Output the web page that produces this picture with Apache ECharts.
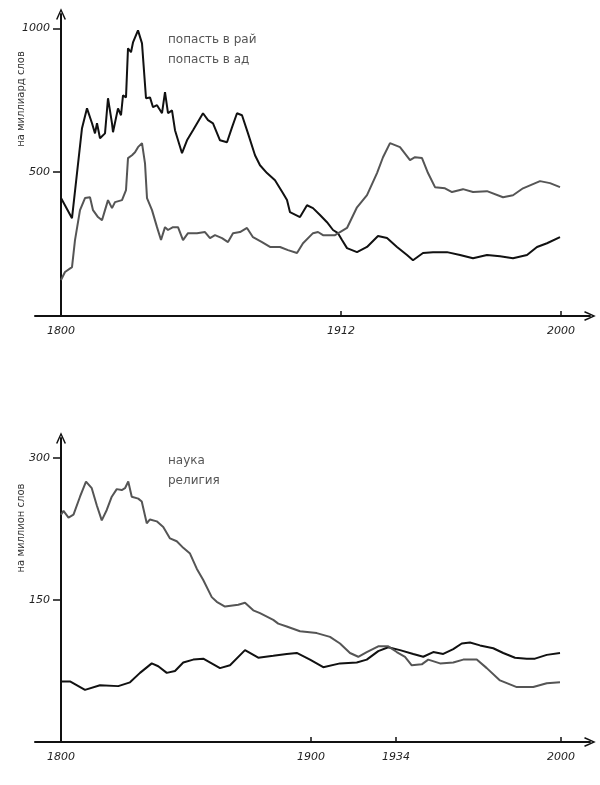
<!DOCTYPE html>
<html><head><meta charset="utf-8">
<script src="https://cdn.jsdelivr.net/npm/echarts@6/dist/echarts.min.js"></script>
<style>html,body{margin:0;padding:0;background:#fff}#c{width:600px;height:785px}</style>
</head><body><div id="c"></div>
<script>
const BASE_YEAR = 1800;
const topLegend = ['попасть в рай', 'попасть в ад'];
const bottomLegend = ['наука', 'религия'];
const topYName = 'на миллиард слов';
const bottomYName = 'на миллион слов';
const topYTicks = [500, 1000];
const bottomYTicks = [150, 300];
const topXTicks = [1800, 1912, 2000];
const bottomXTicks = [1800, 1900, 1934, 2000];

const raiData = [
  [1800,410],[1804.4,340],[1808.4,653],[1810.4,722],[1812.4,670],[1813.6,635],[1814.4,670],[1815.6,618],
  [1817.6,635],[1818.8,757],[1820.4,670],[1820.8,639],[1822.8,722],[1824,698],[1824.8,767],[1826,760],
  [1826.8,931],[1828,917],[1828.8,951],[1830.8,993],[1832.4,948],[1834,757],[1835.6,760],[1836.8,726],
  [1838.4,733],[1840.4,705],[1841.6,778],[1842.8,705],[1844.4,715],[1845.6,646],[1848.4,566],[1850.4,611],
  [1852.8,646],[1856.8,705],[1858.8,681],[1860.8,670],[1863.6,611],[1866.4,604],[1868.4,656],[1870.4,705],
  [1872.4,698],[1874.8,635],[1877.6,559],[1879.6,524],[1882.4,497],[1885.6,472],[1888.8,427],[1890.4,403],
  [1891.6,361],[1895.6,344],[1898.4,385],[1900.8,375],[1903.6,351],[1906.4,326],[1908.8,299],[1910.8,288],
  [1912.4,264],[1914.4,236],[1918.4,222],[1922.4,240],[1926.8,278],[1930.4,271],[1934.4,240],[1938.4,212],
  [1940.8,194],[1944.8,219],[1948.8,222],[1954.4,222],[1959.6,212],[1964.8,201],[1970.4,212],[1975.6,208],
  [1980.8,201],[1986.4,212],[1990.4,240],[1994.4,253],[1999.6,274]
];
const adData = [
  [1800,125],[1801.6,153],[1804.4,170],[1805.6,264],[1807.6,368],[1809.6,410],[1811.6,413],[1812.8,368],
  [1814.8,344],[1816.4,333],[1817.6,368],[1818.8,403],[1820.4,375],[1821.6,396],[1824.4,403],[1826,438],
  [1826.8,549],[1828.4,559],[1829.6,569],[1830.8,587],[1832.4,601],[1833.6,531],[1834.4,410],[1836.4,368],
  [1838.4,309],[1840,264],[1841.6,309],[1842.8,299],[1844.8,309],[1846.8,309],[1848.8,264],[1850.8,288],
  [1854.4,288],[1857.6,292],[1859.6,271],[1861.6,281],[1864.4,271],[1866.8,257],[1868.8,288],[1871.6,292],
  [1874.4,306],[1876.8,274],[1880.4,257],[1883.6,240],[1887.6,240],[1890.8,229],[1894.4,219],[1896.8,253],
  [1900.8,288],[1902.8,292],[1904.8,281],[1909.6,281],[1911.6,292],[1914.4,306],[1918.4,378],[1922.4,420],
  [1926.4,497],[1928.8,552],[1931.6,601],[1935.6,587],[1939.6,542],[1941.6,552],[1944.4,549],[1946.8,497],
  [1949.6,448],[1953.6,444],[1956.4,431],[1960.8,441],[1964.8,431],[1970.4,434],[1976.8,413],[1980.8,420],
  [1984.8,444],[1991.6,469],[1995.6,462],[1999.6,448]
];
const naukaData = [
  [1800,64],[1803.6,64],[1809.6,55],[1815.6,60],[1822.9,59],[1827.6,63],[1831.6,73],[1836.3,83],
  [1838.9,80],[1842.3,73],[1845.6,75],[1848.9,84],[1852.9,87],[1856.9,88],[1863.6,78],[1867.6,81],
  [1873.6,97],[1878.9,89],[1884.9,91],[1890.3,93],[1894.3,94],[1899.6,87],[1904.9,79],[1911.6,83],
  [1918.3,84],[1922.3,87],[1926.9,96],[1930.9,100],[1935.6,97],[1940.9,93],[1944.9,90],[1948.9,95],
  [1952.9,93],[1956.9,98],[1960.3,104],[1963.6,105],[1967.6,102],[1972.9,99],[1976.9,94],[1981.6,89],
  [1986.3,88],[1989.6,88],[1994.3,92],[1999.6,94]
];
const religiyaData = [
  [1800,240],[1801,244],[1803,237],[1805,240],[1807.6,259],[1810,275],[1812.3,268],[1814.3,250],
  [1816.3,234],[1818.3,245],[1820.3,259],[1822.3,267],[1824.3,266],[1825.6,268],[1826.9,275],[1828.3,259],
  [1830.9,257],[1832.3,254],[1834.3,231],[1835.6,235],[1838.3,233],[1840.9,227],[1843.6,215],[1846.3,212],
  [1848.9,205],[1851.6,199],[1854.3,183],[1856.9,171],[1860.3,153],[1862.3,148],[1865.6,143],[1870.9,145],
  [1873.6,147],[1876.9,139],[1879.6,136],[1884.9,129],[1886.9,125],[1890.3,122],[1895.6,117],[1902.3,115],
  [1907.6,111],[1911.6,104],[1915.6,94],[1918.9,90],[1922.3,95],[1926.9,101],[1930.9,101],[1934.3,95],
  [1937.6,90],[1940.3,81],[1944.3,82],[1946.9,87],[1951.6,83],[1956.9,84],[1960.9,87],[1966.3,87],
  [1970.3,78],[1975.6,65],[1982.3,58],[1988.9,58],[1994.3,62],[1999.6,63]
];

const shift = d => d.map(p => [p[0] - BASE_YEAR, p[1]]);
const FONT = 'DejaVu Sans';
const INK = '#111';
const GRAY = '#555';
const chevron = 'path://M0,11 L5,0 L10,11 L8.6,11.6 L5,3.4 L1.4,11.6 Z';

function xAxisCfg(grid, ticks) {
  const vals = ticks.map(t => t - BASE_YEAR);
  return {
    type: 'value', gridIndex: grid, min: -10.4, max: 211.6,
    axisLine: { show: true, onZero: true, symbol: ['none', chevron], symbolSize: [10, 12],
      lineStyle: { color: INK, width: 2 } },
    axisTick: { show: true, inside: true, length: 5, customValues: vals, lineStyle: { color: INK, width: 1.5 } },
    axisLabel: { customValues: vals, formatter: v => String(v + BASE_YEAR), margin: 10,
      color: '#222', fontFamily: FONT, fontStyle: 'italic', fontSize: 11 },
    splitLine: { show: false }
  };
}
function yAxisCfg(grid, max, ticks) {
  return {
    type: 'value', gridIndex: grid, min: 0, max: max,
    axisLine: { show: true, onZero: true, symbol: ['none', chevron], symbolSize: [10, 12],
      lineStyle: { color: INK, width: 2 } },
    axisTick: { show: true, length: 8, customValues: ticks, lineStyle: { color: INK, width: 1.5 } },
    axisLabel: { customValues: ticks, formatter: v => String(v), margin: -15, color: '#222',
      fontFamily: FONT, fontStyle: 'italic', fontSize: 11 },
    splitLine: { show: false }
  };
}
function lineSeries(name, data, x, color) {
  return { name: name, type: 'line', xAxisIndex: x, yAxisIndex: x, data: shift(data),
    showSymbol: false, symbol: 'none', smooth: false, lineStyle: { color: color, width: 2 },
    itemStyle: { color: color }, emphasis: { disabled: true } };
}
function legendCfg(names, top) {
  return { data: names, orient: 'vertical', left: 158, top: top, itemWidth: 0, itemHeight: 0, icon: 'none',
    itemGap: 8, selectedMode: false,
    textStyle: { color: GRAY, fontFamily: FONT, fontSize: 12 } };
}

const chart = echarts.init(document.getElementById('c'), null, { renderer: 'canvas' });
chart.setOption({
  animation: false,
  backgroundColor: '#fff',
  grid: [
    { left: 35, right: 10, top: 14, height: 302 },
    { left: 35, right: 10, top: 438, height: 304 }
  ],
  legend: [ legendCfg(topLegend, 29), legendCfg(bottomLegend, 450) ],
  xAxis: [ xAxisCfg(0, topXTicks), xAxisCfg(1, bottomXTicks) ],
  yAxis: [ yAxisCfg(0, 1050, topYTicks), yAxisCfg(1, 321, bottomYTicks) ],
  series: [
    lineSeries(topLegend[0], raiData, 0, INK),
    lineSeries(topLegend[1], adData, 0, GRAY),
    lineSeries(bottomLegend[0], naukaData, 1, INK),
    lineSeries(bottomLegend[1], religiyaData, 1, GRAY)
  ],
  graphic: [
    { type: 'text', x: 21, y: 99, rotation: Math.PI / 2,
      style: { text: topYName, fill: '#333', font: '10px "DejaVu Sans"', align: 'center', verticalAlign: 'middle' } },
    { type: 'text', x: 21, y: 528, rotation: Math.PI / 2,
      style: { text: bottomYName, fill: '#333', font: '10px "DejaVu Sans"', align: 'center', verticalAlign: 'middle' } }
  ]
});
</script>
</body></html>
